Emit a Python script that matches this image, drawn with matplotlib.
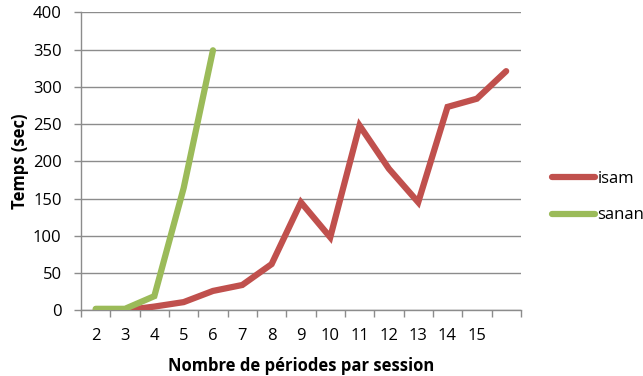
import numpy as np
import matplotlib.pyplot as plt

# category labels on the x axis (last category has no label)
categories = ["2", "3", "4", "5", "6", "7", "8", "9", "10", "11", "12", "13", "14", "15", ""]

# times in seconds
isam = [0, 0, 5, 11, 26, 34, 62, 145, 98, 248, 190, 145, 273, 284, 321]
sanan = [2, 2, 19, 164, 349]

plt.rcParams['font.family'] = ['Open Sans', 'DejaVu Sans']
fs = 12

fig = plt.figure(figsize=(6.43, 3.76), dpi=100)
ax = fig.add_axes([0.126, 0.1747, 0.684, 0.7926])

x = np.arange(len(categories))
ax.plot(x[:len(isam)], isam, color='#C0504D', lw=4.5, solid_joinstyle='miter',
        solid_capstyle='round', label='isam', zorder=3)
ax.plot(x[:len(sanan)], sanan, color='#9BBB59', lw=4.5, solid_joinstyle='miter',
        solid_capstyle='round', label='sanan', zorder=4)

ax.set_xlim(-0.5, len(categories) - 0.5)
ax.set_ylim(0, 400)
ax.set_yticks(np.arange(0, 401, 50))

# category labels centred, tick marks on category boundaries
ax.set_xticks(x)
ax.set_xticklabels(categories, fontsize=fs)
ax.set_xticks(np.arange(-0.5, len(categories)), minor=True)
ax.tick_params(axis='x', which='major', length=0, pad=13)
ax.tick_params(axis='x', which='minor', length=5, color='#8C8C8C', width=1)
ax.tick_params(axis='y', length=5, color='#8C8C8C', width=1, labelsize=fs, pad=9)

ax.grid(axis='y', color='#8C8C8C', lw=1)
ax.set_axisbelow(True)
for s in ['top', 'right']:
    ax.spines[s].set_visible(False)
for s in ['left', 'bottom']:
    ax.spines[s].set_color('#8C8C8C')
    ax.spines[s].set_linewidth(1)

ax.set_xlabel('Nombre de périodes par session', fontsize=fs, fontweight='bold', labelpad=9)
ax.set_ylabel('Temps (sec)', fontsize=fs, fontweight='bold', labelpad=3)

fig.legend(loc='center left', bbox_to_anchor=(0.858, 0.476), frameon=False,
           borderaxespad=0, borderpad=0,
           fontsize=fs, handlelength=2.6, handletextpad=0.15, labelspacing=1.25)

fig.savefig('out.png', dpi=100)
